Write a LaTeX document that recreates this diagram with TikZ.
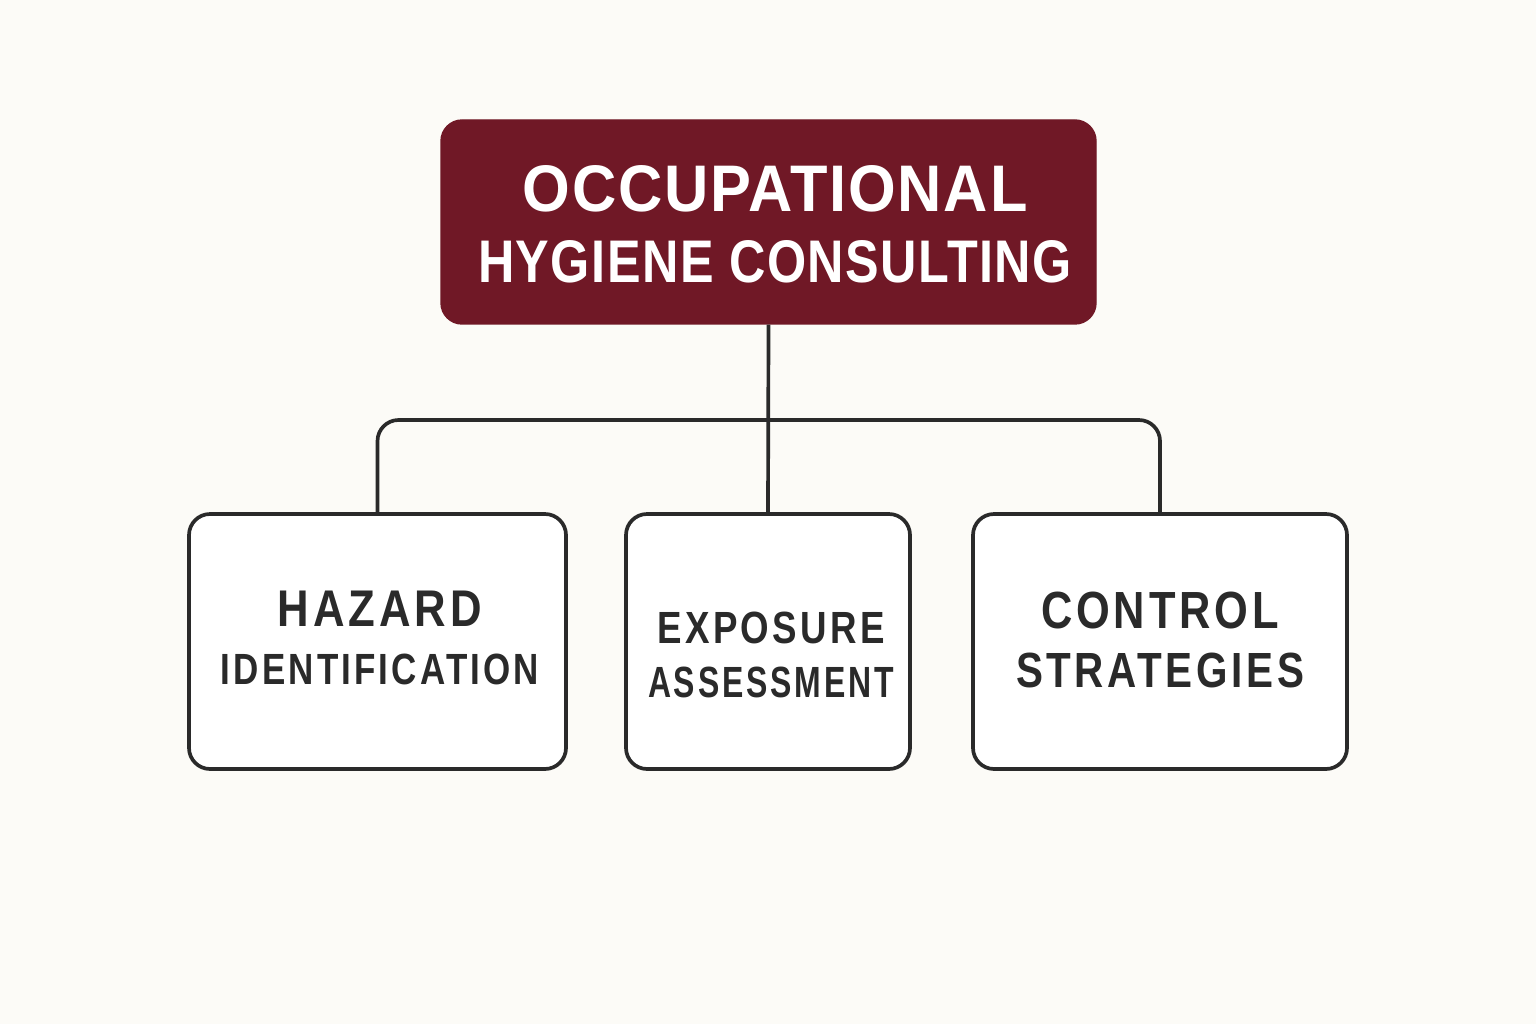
\documentclass[tikz,border=0pt]{standalone}
\usepackage{fontspec}
\usepackage{graphicx}
\newfontfamily\headfont[LetterSpace=3]{Liberation Sans}
\newfontfamily\boxfont[LetterSpace=9]{Liberation Sans}
\definecolor{paper}{HTML}{FCFBF7}
\definecolor{wine}{HTML}{701826}
\definecolor{ink}{HTML}{2A2A2A}
% one line of caps, fitted to width and cap height
\newcommand{\capline}[3]{\resizebox{#1}{#2}{#3}}
\tikzset{
  headbox/.style={draw=wine, fill=wine, rounded corners=6pt, minimum width=6.55cm, minimum height=2.04cm},
  headtext/.style={text=white, align=center, inner sep=0pt, font=\headfont\bfseries\fontsize{10}{20.2}\selectfont},
  topicbox/.style={draw=ink, line width=1.05pt, fill=white, rounded corners=6pt, minimum height=2.55cm},
  topictext/.style={text=ink, align=center, inner sep=0pt, font=\boxfont\bfseries\fontsize{10}{#1}\selectfont},
  wire/.style={draw=ink, line width=1.05pt}
}
\begin{document}
\begin{tikzpicture}
\fill[paper] (0,0) rectangle (15.36,10.24);
\useasboundingbox (0,0) rectangle (15.36,10.24);
%
\node[headbox] (occ) at (7.685,8.02) {};
\node[headtext] (occtxt) at (7.75,8.00) {\capline{5.05cm}{0.46cm}{OCCUPATIONAL}\\ \capline{5.94cm}{0.42cm}{HYGIENE CONSULTING}};
%
\node[topicbox, minimum width=3.77cm] (haz) at (3.775,3.825) {};
\node[topicbox, minimum width=2.84cm] (exp) at (7.68,3.825) {};
\node[topicbox, minimum width=3.74cm] (ctl) at (11.6,3.825) {};
%
\node[topictext=16.5pt] (haztxt) at (3.80,3.86) {\capline{2.04cm}{0.355cm}{HAZARD}\\ \capline{3.18cm}{0.305cm}{IDENTIFICATION}};
\node[topictext=15.6pt] (exptxt) at (7.71,3.69) {\capline{2.27cm}{0.315cm}{EXPOSURE}\\ \capline{2.46cm}{0.305cm}{ASSESSMENT}};
\node[topictext=16.8pt] (ctltxt) at (11.60,3.84) {\capline{2.38cm}{0.365cm}{CONTROL}\\ \capline{2.88cm}{0.345cm}{STRATEGIES}};
%
\coordinate (bus) at (7.685,6.04);
\draw[wire] (occ.south) -- (exp.north);
\draw[wire, rounded corners=6pt] (haz.north) |- (bus) -| (ctl.north);
%
\end{tikzpicture}
\end{document}
